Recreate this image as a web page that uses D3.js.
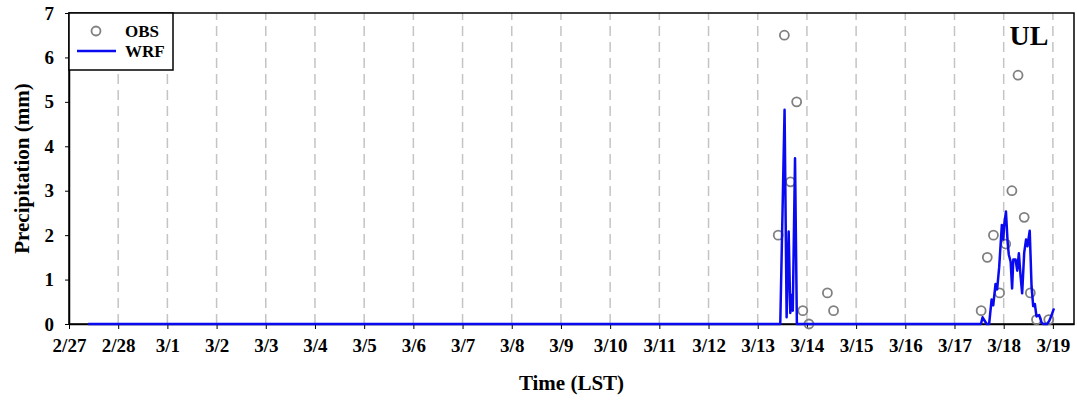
<!DOCTYPE html>
<html>
<head>
<meta charset="utf-8">
<script src="https://d3js.org/d3.v7.min.js"></script>
<style>
  body { margin: 0; background: #fff; }
  text { font-family: "Liberation Serif", "Times New Roman", serif; font-weight: bold; }
</style>
</head>
<body>
<div id="chart"></div>
<script>
// hours counted from 2/27 00:00 LST
var wrfHours = [9.4, 347.0, 349.1, 350.1, 351.1, 351.9, 352.4, 353.1, 354.2, 355.1,
  444.9, 445.7, 447.7, 448.9, 450.1, 450.9, 452.0, 452.8, 453.8, 455.1, 455.8, 456.2,
  457.1, 457.9, 458.5, 459.4, 460.1, 460.7, 461.8, 462.6, 463.4, 464.2, 465.0, 466.0,
  466.9, 467.6, 468.7, 469.6, 470.4, 471.2, 472.0, 473.3, 474.5, 475.3, 477.2, 478.2,
  479.4, 480.5];
var wrfValues = [0, 0, 4.82, 0.15, 2.08, 0.25, 0.65, 0.3, 3.73, 0,
  0, 0.15, 0, 0, 0.55, 0.42, 0.9, 0.78, 1.28, 2.23, 1.9, 2.2,
  2.53, 1.85, 1.56, 1.4, 0.8, 1.45, 1.45, 1.2, 1.59, 1.1, 0.69, 1.6,
  1.9, 1.75, 2.1, 0.84, 0.4, 0.45, 0.17, 0.2, 0.03, 0, 0, 0.07,
  0.2, 0.35];

var obsHours = [346, 349, 352, 355, 358, 361, 370, 373,
  445, 448, 451, 454, 457, 460, 463, 466, 469, 472, 478];
var obsValues = [2.0, 6.5, 3.2, 5.0, 0.3, 0.0, 0.7, 0.3,
  0.3, 1.5, 2.0, 0.7, 1.8, 3.0, 5.6, 2.4, 0.7, 0.1, 0.1];

var yTicks = [0, 1, 2, 3, 4, 5, 6, 7];
var stationLabel = "UL";

var width = 1077, height = 400;
var margin = {top: 13, right: 3, bottom: 76, left: 69};
var start = new Date(2019, 1, 27, 0, 0);
function toDate(h) { return new Date(start.getTime() + h * 3600000); }

var svg = d3.select("#chart").append("svg")
  .attr("width", width)
  .attr("height", height);

var x = d3.scaleTime()
  .domain([start, toDate(490.3)])
  .range([margin.left, width - margin.right]);
var y = d3.scaleLinear()
  .domain([0, 7])
  .range([height - margin.bottom, margin.top]);

var days = d3.timeDay.range(start, toDate(490.3));

// dashed day grid
svg.selectAll("line.grid")
  .data(days.slice(1))
  .enter()
  .append("line")
  .attr("class", "grid")
  .attr("x1", function(d) { return x(d); })
  .attr("x2", function(d) { return x(d); })
  .attr("y1", y(0))
  .attr("y2", y(7))
  .attr("stroke", "#c4c4c4")
  .attr("stroke-width", 1.5)
  .attr("stroke-dasharray", "10,6");

// frame
svg.append("rect")
  .attr("x", margin.left)
  .attr("y", margin.top)
  .attr("width", width - margin.right - margin.left)
  .attr("height", y(0) - margin.top)
  .attr("fill", "none")
  .attr("stroke", "#000")
  .attr("stroke-width", 1.5);

var xAxis = svg.append("g")
  .attr("transform", "translate(0," + y(0) + ")")
  .call(d3.axisBottom(x).tickValues(days).tickFormat(d3.timeFormat("%-m/%-d")).tickSize(5).tickSizeOuter(0));
xAxis.select(".domain").attr("stroke-width", 1.5);
xAxis.selectAll("text").attr("font-size", "19px").attr("fill", "#000").attr("dy", "1.05em");

var yAxis = svg.append("g")
  .attr("transform", "translate(" + margin.left + ",0)")
  .call(d3.axisLeft(y).tickValues(yTicks).tickFormat(d3.format("d")).tickSize(4).tickSizeOuter(0).tickPadding(11));
yAxis.select(".domain").attr("stroke-width", 1.5);
yAxis.selectAll("text").attr("font-size", "19px").attr("fill", "#000");

// OBS circles
svg.selectAll("circle.obs")
  .data(obsHours)
  .enter()
  .append("circle")
  .attr("class", "obs")
  .attr("cx", function(d) { return x(toDate(d)); })
  .attr("cy", function(d, i) { return y(obsValues[i]); })
  .attr("r", 4.5)
  .attr("fill", "none")
  .attr("stroke", "#808080")
  .attr("stroke-width", 1.8);

// WRF line
var line = d3.line()
  .x(function(d) { return x(toDate(d)); })
  .y(function(d, i) { return y(wrfValues[i]); });

svg.append("path")
  .datum(wrfHours)
  .attr("d", line)
  .attr("fill", "none")
  .attr("stroke", "#0a0af0")
  .attr("stroke-width", 2.5)
  .attr("stroke-linejoin", "round");

// axis titles
svg.append("text")
  .attr("x", (margin.left + width - margin.right) / 2)
  .attr("y", 390)
  .attr("text-anchor", "middle")
  .attr("font-size", "21px")
  .text("Time (LST)");

svg.append("text")
  .attr("transform", "translate(29," + (margin.top + y(0)) / 2 + ") rotate(-90)")
  .attr("text-anchor", "middle")
  .attr("font-size", "21px")
  .text("Precipitation (mm)");

// station label
svg.append("text")
  .attr("x", 1029)
  .attr("y", 45)
  .attr("text-anchor", "middle")
  .attr("font-size", "28px")
  .text(stationLabel);

// legend
var legend = svg.append("g");
legend.append("rect")
  .attr("x", margin.left)
  .attr("y", margin.top)
  .attr("width", 104)
  .attr("height", 57)
  .attr("fill", "#fff")
  .attr("stroke", "#000")
  .attr("stroke-width", 1.5);
legend.append("circle")
  .attr("cx", 96).attr("cy", 31).attr("r", 4.5)
  .attr("fill", "none").attr("stroke", "#808080").attr("stroke-width", 1.8);
legend.append("line")
  .attr("x1", 77).attr("x2", 116).attr("y1", 51).attr("y2", 51)
  .attr("stroke", "#0a0af0").attr("stroke-width", 2.5);
legend.append("text").attr("x", 125).attr("y", 37).attr("font-size", "17px").text("OBS");
legend.append("text").attr("x", 125).attr("y", 57).attr("font-size", "17px").text("WRF");
</script>
</body>
</html>
